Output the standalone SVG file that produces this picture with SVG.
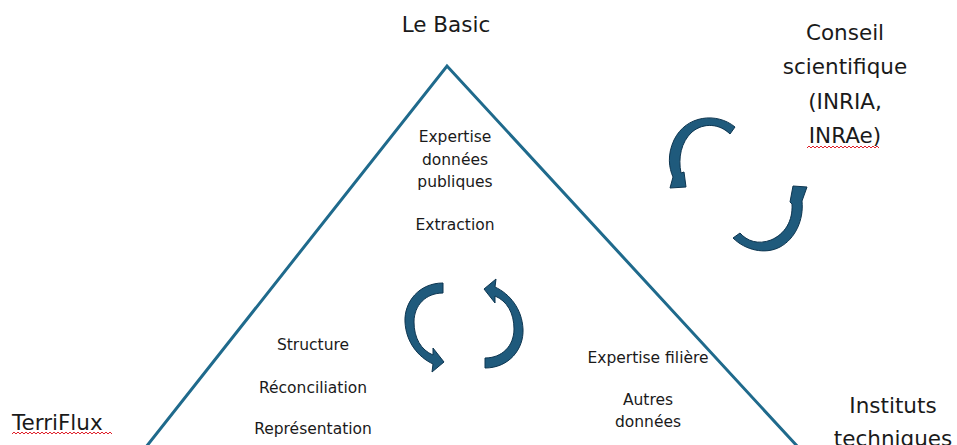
<svg xmlns="http://www.w3.org/2000/svg" width="957" height="445" viewBox="0 0 957 445">
<style>
.big{font-family:"DejaVu Sans","Liberation Sans",sans-serif;font-size:21.5px;fill:#1a1a1a}
.sm{font-family:"DejaVu Sans","Liberation Sans",sans-serif;font-size:15.5px;fill:#1a1a1a}
.mid{text-anchor:middle}
.arr{fill:#1f5a7c;stroke:#0d3550;stroke-width:1;stroke-linejoin:round}
.sq{fill:none;stroke:#e0202a;stroke-width:1}
</style>
<rect width="957" height="445" fill="#ffffff"/>
<g id="triangle">
<polyline points="146,447 447,66 798,447" fill="none" stroke="#1f6a8c" stroke-width="3" stroke-linejoin="miter"/>
</g>
<g id="le-basic"><text class="big mid" x="446" y="32">Le Basic</text></g>
<g id="conseil">
<text class="big mid" x="845" y="40">Conseil</text>
<text class="big mid" x="845" y="74">scientifique</text>
<text class="big mid" x="845" y="109">(INRIA,</text>
<text class="big mid" x="845" y="143">INRAe)</text>
<path class="sq" d="M807 148l2-2l2 2l2-2l2 2l2-2l2 2l2-2l2 2l2-2l2 2l2-2l2 2l2-2l2 2l2-2l2 2l2-2l2 2l2-2l2 2l2-2l2 2l2-2l2 2l2-2l2 2l2-2l2 2l2-2l2 2l2-2l2 2l2-2l2 2l2-2l2 2"/>
</g>
<g id="terriflux">
<text class="big" x="12" y="430">TerriFlux</text>
<path class="sq" d="M12 434l2-2l2 2l2-2l2 2l2-2l2 2l2-2l2 2l2-2l2 2l2-2l2 2l2-2l2 2l2-2l2 2l2-2l2 2l2-2l2 2l2-2l2 2l2-2l2 2l2-2l2 2l2-2l2 2l2-2l2 2l2-2l2 2l2-2l2 2l2-2l2 2l2-2l2 2l2-2l2 2l2-2l2 2l2-2l2 2l2-2l2 2l2-2l2 2l2-2l2 2"/>
</g>
<g id="instituts">
<text class="big mid" x="893" y="413">Instituts</text>
<text class="big mid" x="893" y="446">techniques</text>
</g>
<g id="top-texts">
<text class="sm mid" x="455" y="142">Expertise</text>
<text class="sm mid" x="455" y="165">données</text>
<text class="sm mid" x="455" y="187">publiques</text>
<text class="sm mid" x="455" y="230">Extraction</text>
</g>
<g id="left-texts">
<text class="sm mid" x="313" y="350">Structure</text>
<text class="sm mid" x="313" y="393">Réconciliation</text>
<text class="sm mid" x="313" y="434">Représentation</text>
</g>
<g id="right-texts">
<text class="sm mid" x="648" y="363">Expertise filière</text>
<text class="sm mid" x="648" y="405">Autres</text>
<text class="sm mid" x="648" y="427">données</text>
</g>
<g id="connectors">
<path id="arrow-mid-left" class="arr" d="M443,283 C419,283 404,302 405,322 C406,342 418,357 433,364 L432,372 L444,362 L433,348 L433,355 C421,350 414,338 414,322 C414,305 426,293 443,293 Z"/>
<path id="arrow-mid-right" class="arr" transform="rotate(180 464 325.5)" d="M443,283 C419,283 404,302 405,322 C406,342 418,357 433,364 L432,372 L444,362 L433,348 L433,355 C421,350 414,338 414,322 C414,305 426,293 443,293 Z"/>
<path id="arrow-top-left" class="arr" d="M735,127 C717,112 686,115 674,140 C667,155 669,168 673,177 L670,188 L686,187 L684,172 L681,173 C678,158 681,142 692,132 C704,122 720,124 730,134 Z"/>
<path id="arrow-bottom-right" class="arr" d="M733,238 C745,250 765,255 780,247 C795,239 804,220 802,201 L807,187 L793,186 L790,202 L792,204 C793,221 785,234 771,240 C758,245 747,241 740,233 Z"/>
</g>
</svg>
